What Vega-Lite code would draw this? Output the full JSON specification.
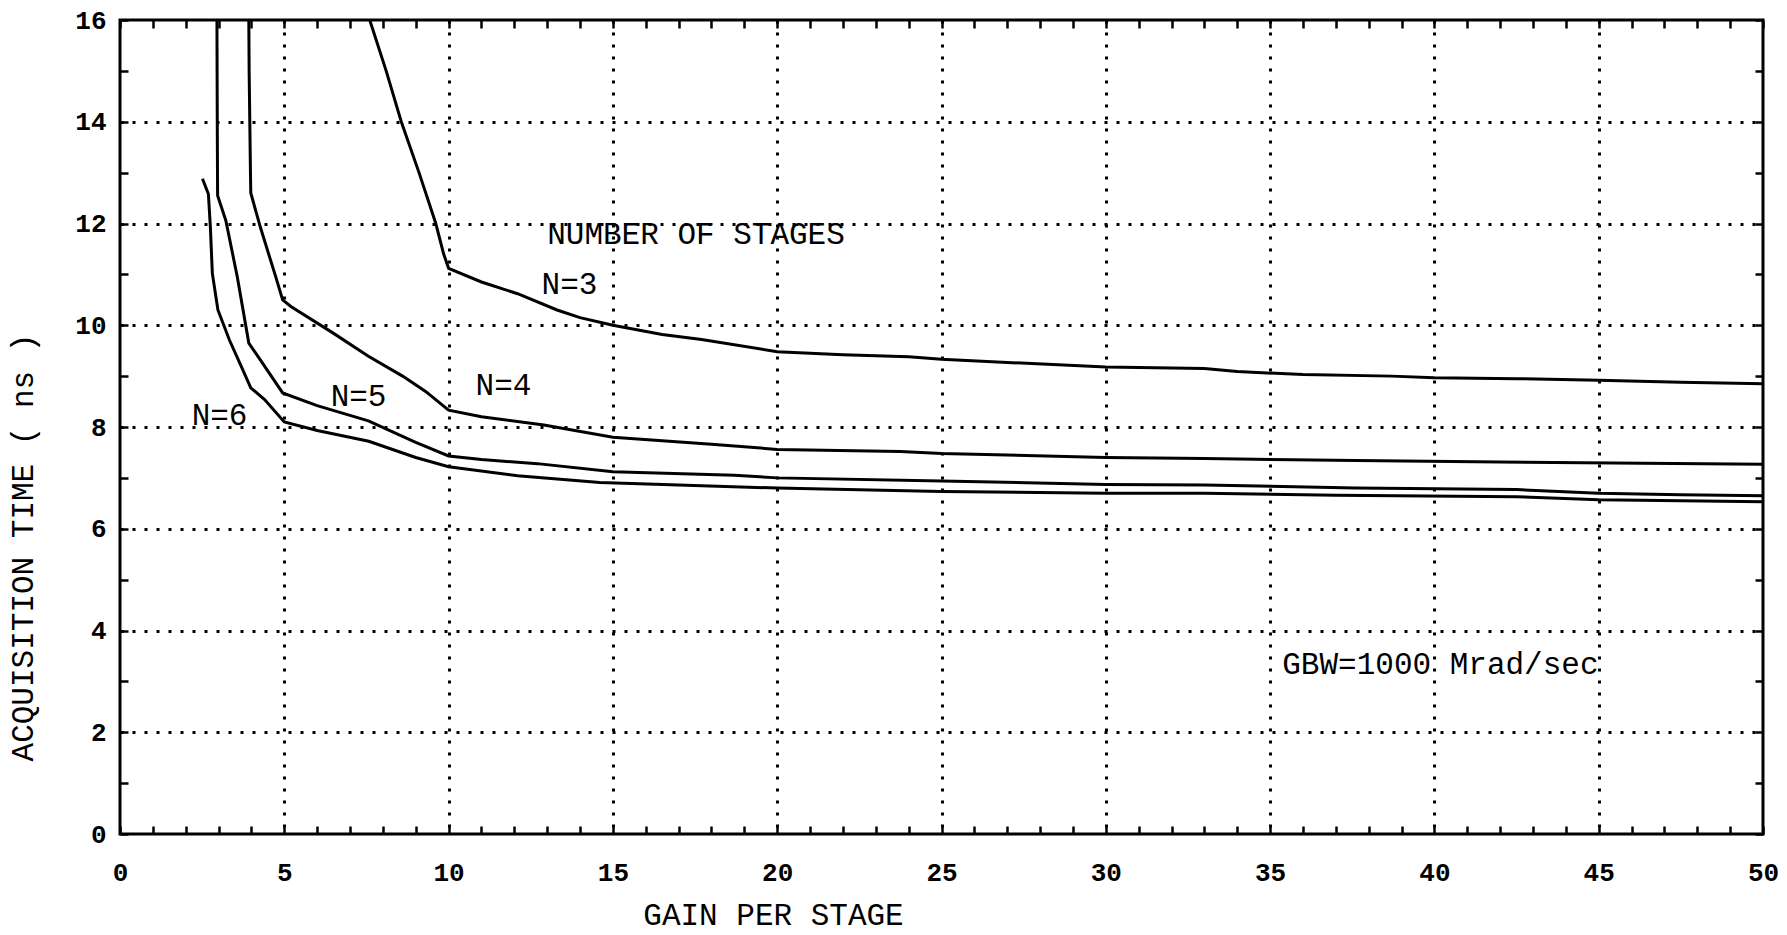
{
  "$schema": "https://vega.github.io/schema/vega-lite/v6.json",
  "width": 1643,
  "height": 814,
  "autosize": {"type": "none"},
  "padding": {"left": 120, "top": 20, "right": 24, "bottom": 101},
  "background": "white",
  "config": {
    "view": {"stroke": "black", "strokeWidth": 3},
    "font": "Liberation Mono"
  },
  "datasets": {
    "curves": [
      {"stages": "N=3", "gain": 7.6, "time": 16},
      {"stages": "N=3", "gain": 8.1, "time": 15},
      {"stages": "N=3", "gain": 8.56, "time": 14},
      {"stages": "N=3", "gain": 9.1, "time": 13},
      {"stages": "N=3", "gain": 9.61, "time": 12},
      {"stages": "N=3", "gain": 9.85, "time": 11.4},
      {"stages": "N=3", "gain": 10, "time": 11.12},
      {"stages": "N=3", "gain": 11, "time": 10.85},
      {"stages": "N=3", "gain": 12.1, "time": 10.62},
      {"stages": "N=3", "gain": 13.3, "time": 10.3},
      {"stages": "N=3", "gain": 14, "time": 10.15},
      {"stages": "N=3", "gain": 15, "time": 10.0},
      {"stages": "N=3", "gain": 16.5, "time": 9.82},
      {"stages": "N=3", "gain": 17.7, "time": 9.72},
      {"stages": "N=3", "gain": 20, "time": 9.48},
      {"stages": "N=3", "gain": 22, "time": 9.42},
      {"stages": "N=3", "gain": 24, "time": 9.38},
      {"stages": "N=3", "gain": 25, "time": 9.33},
      {"stages": "N=3", "gain": 27, "time": 9.27},
      {"stages": "N=3", "gain": 30, "time": 9.18},
      {"stages": "N=3", "gain": 33, "time": 9.15},
      {"stages": "N=3", "gain": 34, "time": 9.09},
      {"stages": "N=3", "gain": 36, "time": 9.03},
      {"stages": "N=3", "gain": 38.7, "time": 9.0},
      {"stages": "N=3", "gain": 40, "time": 8.97},
      {"stages": "N=3", "gain": 42.5, "time": 8.95},
      {"stages": "N=3", "gain": 45, "time": 8.92},
      {"stages": "N=3", "gain": 47.5, "time": 8.88},
      {"stages": "N=3", "gain": 50, "time": 8.85},

      {"stages": "N=4", "gain": 3.92, "time": 16},
      {"stages": "N=4", "gain": 3.93, "time": 15},
      {"stages": "N=4", "gain": 3.95, "time": 14},
      {"stages": "N=4", "gain": 3.97, "time": 13},
      {"stages": "N=4", "gain": 3.98, "time": 12.6},
      {"stages": "N=4", "gain": 4.27, "time": 11.93},
      {"stages": "N=4", "gain": 4.74, "time": 10.95},
      {"stages": "N=4", "gain": 4.95, "time": 10.5},
      {"stages": "N=4", "gain": 5.2, "time": 10.37},
      {"stages": "N=4", "gain": 6.5, "time": 9.84},
      {"stages": "N=4", "gain": 7.56, "time": 9.39},
      {"stages": "N=4", "gain": 8.6, "time": 9.0},
      {"stages": "N=4", "gain": 9.3, "time": 8.7},
      {"stages": "N=4", "gain": 10, "time": 8.33},
      {"stages": "N=4", "gain": 11, "time": 8.2},
      {"stages": "N=4", "gain": 12.9, "time": 8.04},
      {"stages": "N=4", "gain": 15, "time": 7.8},
      {"stages": "N=4", "gain": 18, "time": 7.66},
      {"stages": "N=4", "gain": 20, "time": 7.56},
      {"stages": "N=4", "gain": 23.75, "time": 7.52},
      {"stages": "N=4", "gain": 25, "time": 7.48},
      {"stages": "N=4", "gain": 30, "time": 7.4},
      {"stages": "N=4", "gain": 33, "time": 7.38},
      {"stages": "N=4", "gain": 37.6, "time": 7.34},
      {"stages": "N=4", "gain": 42, "time": 7.31},
      {"stages": "N=4", "gain": 50, "time": 7.27},

      {"stages": "N=5", "gain": 2.95, "time": 16},
      {"stages": "N=5", "gain": 2.96, "time": 14},
      {"stages": "N=5", "gain": 2.97, "time": 12.55},
      {"stages": "N=5", "gain": 3.22, "time": 12.06},
      {"stages": "N=5", "gain": 3.57, "time": 10.95},
      {"stages": "N=5", "gain": 3.92, "time": 9.65},
      {"stages": "N=5", "gain": 4.27, "time": 9.32},
      {"stages": "N=5", "gain": 4.95, "time": 8.67},
      {"stages": "N=5", "gain": 6.0, "time": 8.42},
      {"stages": "N=5", "gain": 7.56, "time": 8.12},
      {"stages": "N=5", "gain": 9, "time": 7.7},
      {"stages": "N=5", "gain": 10, "time": 7.43},
      {"stages": "N=5", "gain": 11, "time": 7.36},
      {"stages": "N=5", "gain": 12.7, "time": 7.28},
      {"stages": "N=5", "gain": 15, "time": 7.12},
      {"stages": "N=5", "gain": 18.7, "time": 7.05},
      {"stages": "N=5", "gain": 20, "time": 7.0},
      {"stages": "N=5", "gain": 25, "time": 6.94},
      {"stages": "N=5", "gain": 30, "time": 6.87},
      {"stages": "N=5", "gain": 33, "time": 6.86},
      {"stages": "N=5", "gain": 37.6, "time": 6.8},
      {"stages": "N=5", "gain": 42.5, "time": 6.77},
      {"stages": "N=5", "gain": 45, "time": 6.7},
      {"stages": "N=5", "gain": 47.5, "time": 6.67},
      {"stages": "N=5", "gain": 50, "time": 6.65},

      {"stages": "N=6", "gain": 2.51, "time": 12.88},
      {"stages": "N=6", "gain": 2.69, "time": 12.58},
      {"stages": "N=6", "gain": 2.75, "time": 11.93},
      {"stages": "N=6", "gain": 2.81, "time": 11.02},
      {"stages": "N=6", "gain": 2.98, "time": 10.3},
      {"stages": "N=6", "gain": 3.33, "time": 9.71},
      {"stages": "N=6", "gain": 3.69, "time": 9.19},
      {"stages": "N=6", "gain": 3.98, "time": 8.77},
      {"stages": "N=6", "gain": 4.4, "time": 8.54},
      {"stages": "N=6", "gain": 5, "time": 8.1},
      {"stages": "N=6", "gain": 6, "time": 7.93},
      {"stages": "N=6", "gain": 7.57, "time": 7.72},
      {"stages": "N=6", "gain": 9, "time": 7.4},
      {"stages": "N=6", "gain": 10, "time": 7.22},
      {"stages": "N=6", "gain": 12.1, "time": 7.04},
      {"stages": "N=6", "gain": 14.6, "time": 6.91},
      {"stages": "N=6", "gain": 17, "time": 6.86},
      {"stages": "N=6", "gain": 20, "time": 6.8},
      {"stages": "N=6", "gain": 25, "time": 6.73},
      {"stages": "N=6", "gain": 30, "time": 6.7},
      {"stages": "N=6", "gain": 33, "time": 6.7},
      {"stages": "N=6", "gain": 37, "time": 6.66},
      {"stages": "N=6", "gain": 42.5, "time": 6.63},
      {"stages": "N=6", "gain": 45, "time": 6.57},
      {"stages": "N=6", "gain": 47.5, "time": 6.55},
      {"stages": "N=6", "gain": 50, "time": 6.53}
    ],
    "notes": [
      {"gain": 13.0, "time": 11.77, "label": "NUMBER OF STAGES"},
      {"gain": 12.83, "time": 10.8, "label": "N=3"},
      {"gain": 10.82, "time": 8.81, "label": "N=4"},
      {"gain": 6.41, "time": 8.58, "label": "N=5"},
      {"gain": 2.18, "time": 8.22, "label": "N=6"},
      {"gain": 35.37, "time": 3.32, "label": "GBW=1000 Mrad/sec"}
    ]
  },
  "layer": [
    {
      "data": {"name": "curves"},
      "mark": {"type": "line", "color": "black", "strokeWidth": 3, "clip": true},
      "encoding": {
        "x": {
          "field": "gain",
          "type": "quantitative",
          "scale": {"domain": [0, 50], "nice": false, "zero": false},
          "axis": {
            "orient": "bottom",
            "tickCount": 50,
            "labelExpr": "datum.value % 5 === 0 ? datum.label : ''",
            "labelOverlap": false,
            "labelFlush": false,
            "labelFont": "Liberation Mono",
            "labelFontSize": 26,
            "labelFontWeight": "bold",
            "labelColor": "black",
            "labelPadding": 33,
            "ticks": true,
            "tickSize": -8,
            "tickColor": "black",
            "tickWidth": 2.5,
            "domain": false,
            "grid": true,
            "gridColor": "black",
            "gridDash": [3, 9],
            "gridWidth": 3,
            "gridOpacity": {"condition": {"test": "datum.value % 5 === 0 && datum.value > 0 && datum.value < 50", "value": 1}, "value": 0},
            "title": "GAIN PER STAGE",
            "titleFont": "Liberation Mono",
            "titleFontSize": 31,
            "titleFontWeight": "normal",
            "titleColor": "black",
            "titleX": 653,
            "titleY": 81,
            "titleAlign": "center",
            "titleBaseline": "middle"
          }
        },
        "y": {
          "field": "time",
          "type": "quantitative",
          "scale": {"domain": [0, 16], "nice": false, "zero": false},
          "axis": {
            "orient": "left",
            "tickCount": 16,
            "labelExpr": "datum.value % 2 === 0 ? datum.label : ''",
            "labelOverlap": false,
            "labelFlush": false,
            "labelFont": "Liberation Mono",
            "labelFontSize": 26,
            "labelFontWeight": "bold",
            "labelColor": "black",
            "labelPadding": 22,
            "ticks": true,
            "tickSize": -8,
            "tickColor": "black",
            "tickWidth": 2.5,
            "domain": false,
            "grid": true,
            "gridColor": "black",
            "gridDash": [3, 9],
            "gridWidth": 3,
            "gridOpacity": {"condition": {"test": "datum.value % 2 === 0 && datum.value > 0 && datum.value < 16", "value": 1}, "value": 0},
            "title": "ACQUISITION TIME  ( ns )",
            "titleFont": "Liberation Mono",
            "titleFontSize": 31,
            "titleFontWeight": "normal",
            "titleColor": "black",
            "titleAngle": 270,
            "titleX": -97,
            "titleY": 527,
            "titleAlign": "center",
            "titleBaseline": "middle"
          }
        },
        "detail": {"field": "stages"}
      }
    },
    {
      "data": {"name": "notes"},
      "mark": {"type": "text", "font": "Liberation Mono", "fontSize": 31, "fontWeight": "normal", "align": "left", "baseline": "middle", "color": "black"},
      "encoding": {
        "x": {
          "field": "gain",
          "type": "quantitative",
          "scale": {"domain": [0, 50], "nice": false, "zero": false},
          "axis": {"orient": "top", "tickCount": 50, "labels": false, "tickSize": -8, "tickColor": "black", "tickWidth": 2.5, "domain": false, "grid": false, "title": null}
        },
        "y": {
          "field": "time",
          "type": "quantitative",
          "scale": {"domain": [0, 16], "nice": false, "zero": false},
          "axis": {"orient": "right", "tickCount": 16, "labels": false, "tickSize": -8, "tickColor": "black", "tickWidth": 2.5, "domain": false, "grid": false, "title": null}
        },
        "text": {"field": "label"}
      }
    }
  ],
  "resolve": {"axis": {"x": "independent", "y": "independent"}}
}
